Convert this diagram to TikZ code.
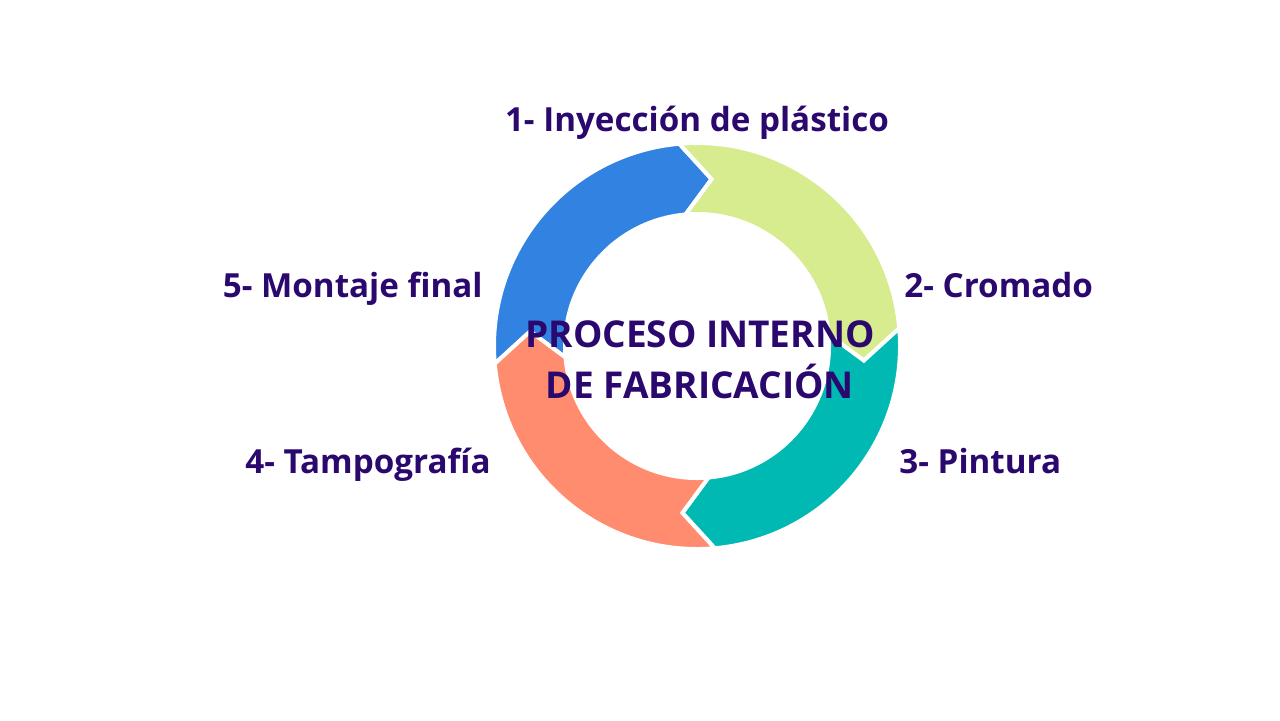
\documentclass[tikz,border=0pt]{standalone}
\usepackage{fontspec}
\setmainfont{Open Sans}
\definecolor{textpurple}{RGB}{42,8,110}
\definecolor{bluecol}{RGB}{49,130,225}
\definecolor{greencol}{RGB}{214,236,142}
\definecolor{tealcol}{RGB}{0,185,178}
\definecolor{orangecol}{RGB}{255,140,110}
\begin{document}
\begin{tikzpicture}[x=0.5pt,y=0.5pt,
  steplabel/.style={font=\fontsize{16.6}{25.5}\selectfont\bfseries,text=textpurple,inner sep=0pt}]
\useasboundingbox (0,0) rectangle (1280,720);
% ring of four arrows
\begin{scope}[shift={(697,374)}]
\foreach \a/\c in {185/bluecol,95/greencol,5/tealcol,-85/orangecol}
  \filldraw[fill=\c,draw=white,line width=2pt] (\a:203) arc[start angle=\a,end angle=\a-90,radius=203] -- (\a-100:167.5) -- (\a-90:132) arc[start angle=\a-90,end angle=\a,radius=132] -- (\a-10:167.5) -- cycle;
\end{scope}
% labels
\node[steplabel,anchor=base] (step1) at (697,589) {1- Inyección de plástico};
\node[steplabel,anchor=base west] (step2) at (904,422.5) {2- Cromado};
\node[steplabel,anchor=base west] (step3) at (899,246.5) {3- Pintura};
\node[steplabel,anchor=base east] (step4) at (491,246.5) {4- Tampografía};
\node[steplabel,anchor=base east] (step5) at (483,422.5) {5- Montaje final};
\node[steplabel,font=\fontsize{18.5}{25.5}\selectfont\bfseries,align=center] (title) at (700,360) {PROCESO INTERNO\\DE FABRICACIÓN};
\end{tikzpicture}
\end{document}
